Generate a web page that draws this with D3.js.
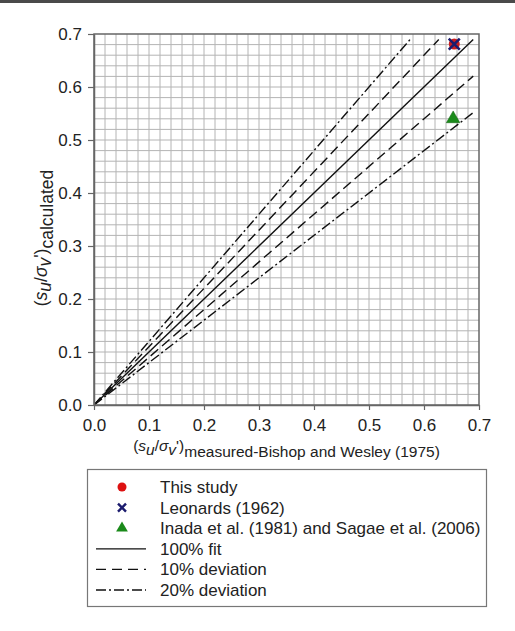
<!DOCTYPE html>
<html>
<head>
<meta charset="utf-8">
<script src="https://cdn.jsdelivr.net/npm/d3@7"></script>
<style>
  html, body { margin: 0; padding: 0; background: #fff; }
  svg { display: block; font-family: "Liberation Sans", Arial, sans-serif; }
</style>
</head>
<body>
<svg id="chart" width="515" height="631"></svg>
<script>
// ---- data ----
const axisTicks = [0.0, 0.1, 0.2, 0.3, 0.4, 0.5, 0.6, 0.7];
const tickLabels = ["0.0", "0.1", "0.2", "0.3", "0.4", "0.5", "0.6", "0.7"];
const thisStudy = [[0.655, 0.681]];
const leonards = [[0.655, 0.681]];
const inada = [[0.653, 0.540]];
const fitRatios = [1.0];
const dev10Ratios = [1.1, 0.9];
const dev20Ratios = [1.2, 0.8];
const legendLabels = ["This study", "Leonards (1962)", "Inada et al. (1981) and Sagae et al. (2006)", "100% fit", "10% deviation", "20% deviation"];

const svg = d3.select("#chart");
const W = 515, H = 631;
const m = { left: 94, right: 479, top: 34, bottom: 405 };

svg.append("rect").attr("x", 0).attr("y", 0).attr("width", W).attr("height", 3).attr("fill", "#4a4a4a");

const x = d3.scaleLinear().domain([0, 0.7]).range([m.left, m.right]);
const y = d3.scaleLinear().domain([0, 0.7]).range([m.bottom, m.top]);

// grid
const gridVals = d3.range(1, 35).map(i => i * 0.02);
const g = svg.append("g");
g.selectAll("line.vg").data(gridVals).enter().append("line")
  .attr("x1", d => x(d)).attr("x2", d => x(d)).attr("y1", m.top).attr("y2", m.bottom)
  .attr("stroke", "#b4b4b4").attr("stroke-width", 1);
g.selectAll("line.hg").data(gridVals).enter().append("line")
  .attr("y1", d => y(d)).attr("y2", d => y(d)).attr("x1", m.left).attr("x2", m.right)
  .attr("stroke", "#b4b4b4").attr("stroke-width", 1);

// clip
svg.append("clipPath").attr("id", "clip").append("rect")
  .attr("x", m.left).attr("y", m.top).attr("width", m.right - m.left).attr("height", m.bottom - m.top);

const lines = svg.append("g").attr("clip-path", "url(#clip)");
function ratioLine(r, dash) {
  const xEnd = Math.min(0.7, 0.7 / r) * 0.985;
  lines.append("line")
    .attr("x1", x(0)).attr("y1", y(0)).attr("x2", x(xEnd)).attr("y2", y(xEnd * r))
    .attr("stroke", "#111").attr("stroke-width", 1.4)
    .attr("stroke-dasharray", dash);
}
fitRatios.forEach(r => ratioLine(r, null));
dev10Ratios.forEach(r => ratioLine(r, "10,5"));
dev20Ratios.forEach(r => ratioLine(r, "10,3,2,3"));

// frame
svg.append("rect").attr("x", m.left).attr("y", m.top).attr("width", m.right - m.left).attr("height", m.bottom - m.top)
  .attr("fill", "none").attr("stroke", "#666").attr("stroke-width", 1.5);

// axes
const xAxis = d3.axisBottom(x).tickValues(axisTicks).tickFormat((d, i) => tickLabels[i]).tickSize(5).tickSizeOuter(0).tickPadding(9);
const yAxis = d3.axisLeft(y).tickValues(axisTicks).tickFormat((d, i) => tickLabels[i]).tickSize(6).tickSizeOuter(0).tickPadding(6);
const gx = svg.append("g").attr("transform", `translate(0,${m.bottom})`).call(xAxis);
const gy = svg.append("g").attr("transform", `translate(${m.left},0)`).call(yAxis);
[gx, gy].forEach(a => {
  a.select(".domain").attr("stroke", "#666").attr("stroke-width", 1.5);
  a.selectAll(".tick line").attr("stroke", "#666").attr("stroke-width", 1.2);
  a.selectAll(".tick text").attr("font-size", 17).attr("fill", "#222")
    .attr("font-family", "Liberation Sans, Arial, sans-serif");
});

// markers
const pts = svg.append("g");
pts.selectAll("circle.ts").data(thisStudy).enter().append("circle")
  .attr("cx", d => x(d[0])).attr("cy", d => y(d[1])).attr("r", 5.5)
  .attr("fill", "#cc1f1f");
function xMark(sel, cx, cy, s, w) {
  sel.append("path").attr("d", `M${cx - s},${cy - s}L${cx + s},${cy + s}M${cx - s},${cy + s}L${cx + s},${cy - s}`)
    .attr("stroke", "#1c1c6e").attr("stroke-width", w).attr("fill", "none");
}
leonards.forEach(d => xMark(pts, x(d[0]), y(d[1]), 5.5, 2.6));
const tri = d3.symbol().type(d3.symbolTriangle).size(80);
pts.selectAll("path.tri").data(inada).enter().append("path")
  .attr("d", tri).attr("transform", d => `translate(${x(d[0])},${y(d[1])})`)
  .attr("fill", "#1a8a1a").attr("stroke", "#0f5f0f").attr("stroke-width", 0.5);

// axis labels
function buildLabel(t, sub, dsub) {
  t.append("tspan").text("(");
  t.append("tspan").attr("font-style", "italic").text("s");
  t.append("tspan").attr("font-style", "italic").attr("dy", 4).text("u");
  t.append("tspan").attr("dy", -4).text("/");
  t.append("tspan").attr("font-style", "italic").text("σ");
  t.append("tspan").attr("font-style", "italic").attr("dy", 4).text("v");
  t.append("tspan").attr("dy", -4).text("')");
  t.append("tspan").attr("dy", dsub).text(sub);
}
const xl = svg.append("text").attr("x", (m.left + m.right) / 2).attr("y", 451).attr("text-anchor", "middle")
  .attr("font-size", 15.5).attr("fill", "#222");
buildLabel(xl, "measured-Bishop and Wesley (1975)", 6);
const yl = svg.append("text").attr("transform", `translate(47,238) rotate(-90)`)
  .attr("text-anchor", "middle").attr("font-size", 17.5).attr("fill", "#222");
buildLabel(yl, "calculated", 6);

// legend
const lg = svg.append("g");
lg.append("rect").attr("x", 87.5).attr("y", 469.5).attr("width", 399).attr("height", 137)
  .attr("fill", "#fff").attr("stroke", "#777").attr("stroke-width", 1.2);
const rowY = i => 487 + i * 20.6;
const symX = 122;
lg.append("circle").attr("cx", symX).attr("cy", rowY(0)).attr("r", 4.5).attr("fill", "#dd1111");
xMark(lg, symX, rowY(1), 4, 2.4);
lg.append("path").attr("d", d3.symbol().type(d3.symbolTriangle).size(60))
  .attr("transform", `translate(${symX},${rowY(2)})`).attr("fill", "#1a8a1a");
const lineDash = [null, "10,6", "10,3,2,3"];
[3, 4, 5].forEach((r, k) => {
  lg.append("line").attr("x1", 96).attr("x2", 146).attr("y1", rowY(r)).attr("y2", rowY(r))
    .attr("stroke", "#111").attr("stroke-width", 1.3).attr("stroke-dasharray", lineDash[k]);
});
lg.selectAll("text.lt").data(legendLabels).enter().append("text")
  .attr("x", 160).attr("y", (d, i) => rowY(i)).attr("dy", "0.35em")
  .attr("font-size", 17).attr("fill", "#222").text(d => d);
</script>
</body>
</html>
